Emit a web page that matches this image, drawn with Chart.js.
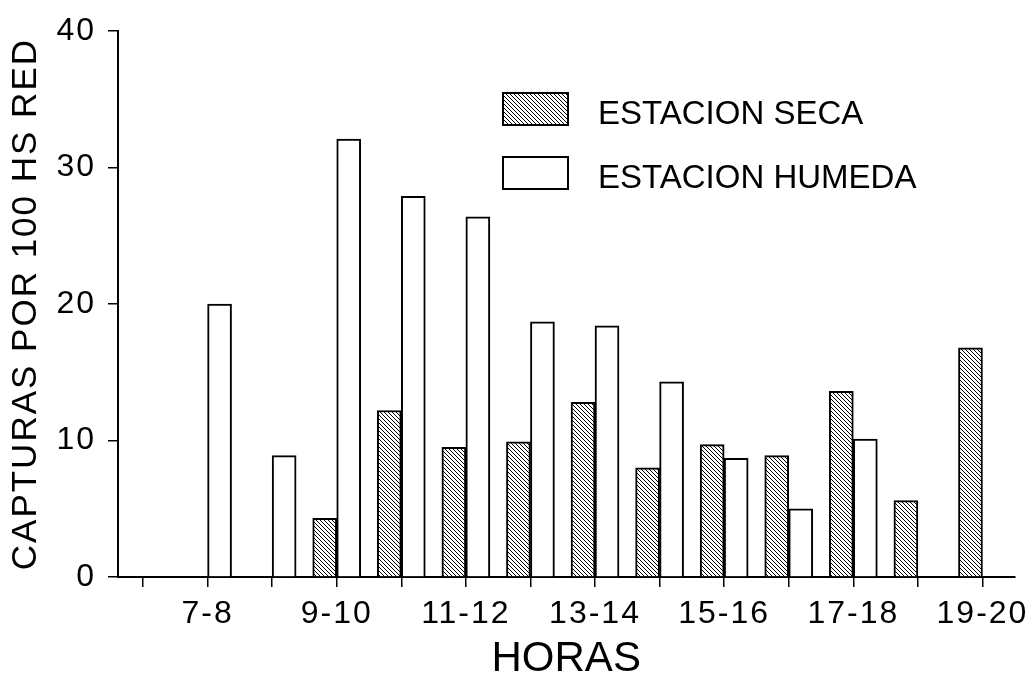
<!DOCTYPE html>
<html><head><meta charset="utf-8">
<script src="https://cdn.jsdelivr.net/npm/chart.js@4/dist/chart.umd.min.js"></script>
<style>html,body{margin:0;padding:0;background:#fff}#wrap{width:1032px;height:687px;position:relative}</style>
</head><body><div id="wrap"><canvas id="c"></canvas></div>
<script>
// ---- data ----
const hours = ['6-7','7-8','8-9','9-10','10-11','11-12','12-13','13-14','14-15','15-16','16-17','17-18','18-19','19-20'];
const shownHourLabels = ['7-8','9-10','11-12','13-14','15-16','17-18','19-20'];
const seca   = [null, null, null, 4.3, 12.2, 9.5, 9.9, 12.8, 8.0, 9.7, 8.9, 13.6, 5.6, 16.8];
const humeda = [null, 20.0, 8.9, 32.1, 27.9, 26.4, 18.7, 18.4, 14.3, 8.7, 5.0, 10.1, null, null];
const seriesNames = ['ESTACION SECA', 'ESTACION HUMEDA'];
const yTitle = 'CAPTURAS POR 100 HS RED';
const xTitle = 'HORAS';

const FONT = '"Liberation Sans", Arial, Helvetica, sans-serif';

function makeHatch(){
  const c = document.createElement('canvas');
  c.width = 4; c.height = 4;
  const g = c.getContext('2d');
  g.fillStyle = '#fff'; g.fillRect(0,0,4,4);
  g.strokeStyle = '#000'; g.lineWidth = 1.0;
  g.beginPath();
  g.moveTo(-1,-1); g.lineTo(5,5);
  g.moveTo(-1,3); g.lineTo(1,5);
  g.moveTo(3,-1); g.lineTo(5,1);
  g.stroke();
  return g.createPattern(c, 'repeat');
}
const hatch = makeHatch();

const toPoints = arr => arr.map((v,i) => ({x:i, y:v}));

const spacingPlugin = {
  id: 'spacing',
  afterUpdate(chart){
    Object.values(chart.scales).forEach(s => {
      if (s._lsWrapped) return;
      s._lsWrapped = true;
      const dl = s.drawLabels, dt = s.drawTitle;
      const lsL = '2px';
      const lsT = s.axis === 'x' ? '0px' : '2px';
      s.drawLabels = function(a){ this.ctx.save(); this.ctx.letterSpacing = lsL; dl.call(this, a); this.ctx.restore(); };
      s.drawTitle = function(){ this.ctx.save(); this.ctx.letterSpacing = lsT; dt.call(this); this.ctx.restore(); };
    });
  }
};

const legendPlugin = {
  id: 'legendBox',
  afterDraw(chart){
    const ctx = chart.ctx;
    const rows = [{y:93}, {y:157}];
    ctx.save();
    chart.data.datasets.forEach((ds, i) => {
      const r = rows[i];
      ctx.fillStyle = ds.backgroundColor;
      ctx.fillRect(503, r.y, 65, 32);
      ctx.strokeStyle = '#000'; ctx.lineWidth = 2;
      ctx.strokeRect(503, r.y, 65, 32);
      ctx.fillStyle = '#000';
      ctx.font = '33px ' + FONT;
      ctx.textBaseline = 'middle';
      ctx.textAlign = 'left';
      ctx.fillText(ds.label, 598, r.y + 22);
    });
    ctx.restore();
  }
};

new Chart(document.getElementById('c'), {
  type: 'bar',
  data: {
    datasets: [
      { label: seriesNames[0], data: toPoints(seca), backgroundColor: hatch, borderColor: '#000', borderWidth: 2, barThickness: 24 },
      { label: seriesNames[1], data: toPoints(humeda), backgroundColor: '#fff', borderColor: '#000', borderWidth: 2, barThickness: 24 }
    ]
  },
  options: {
    responsive: true,
    maintainAspectRatio: false,
    animation: false,
    layout: { padding: { top: 25, right: 17, left: 0, bottom: 0 } },
    plugins: { legend: { display: false }, tooltip: { enabled: false } },
    scales: {
      x: {
        type: 'linear',
        min: -0.387, max: 13.495,
        offset: false,
        afterFit: s => { s.height = 110; },
        grid: { display: true, drawOnChartArea: false, drawTicks: true, tickLength: 10, color: '#000', lineWidth: 1.5, offset: false },
        border: { display: true, color: '#000', width: 2 },
        ticks: {
          stepSize: 1, includeBounds: false, autoSkip: false, maxRotation: 0, minRotation: 0, maxTicksLimit: 30,
          color: '#000', font: { family: FONT, size: 32 }, padding: 8,
          callback: v => (Number.isInteger(v) && shownHourLabels.includes(hours[v])) ? hours[v] : ''
        },
        title: { display: true, text: xTitle, color: '#000', font: { family: FONT, size: 42 }, padding: { top: 0, bottom: 2 } }
      },
      y: {
        min: 0, max: 40,
        afterFit: s => { s.width = 118; },
        grid: { display: true, drawOnChartArea: false, drawTicks: true, tickLength: 10, color: '#000', lineWidth: 1.5 },
        border: { display: true, color: '#000', width: 2 },
        ticks: { stepSize: 10, color: '#000', font: { family: FONT, size: 32 }, padding: 12 },
        title: { display: true, text: yTitle, color: '#000', font: { family: FONT, size: 35 }, padding: { top: 5, bottom: 0 } }
      }
    }
  },
  plugins: [spacingPlugin, legendPlugin]
});
</script>
</body></html>
